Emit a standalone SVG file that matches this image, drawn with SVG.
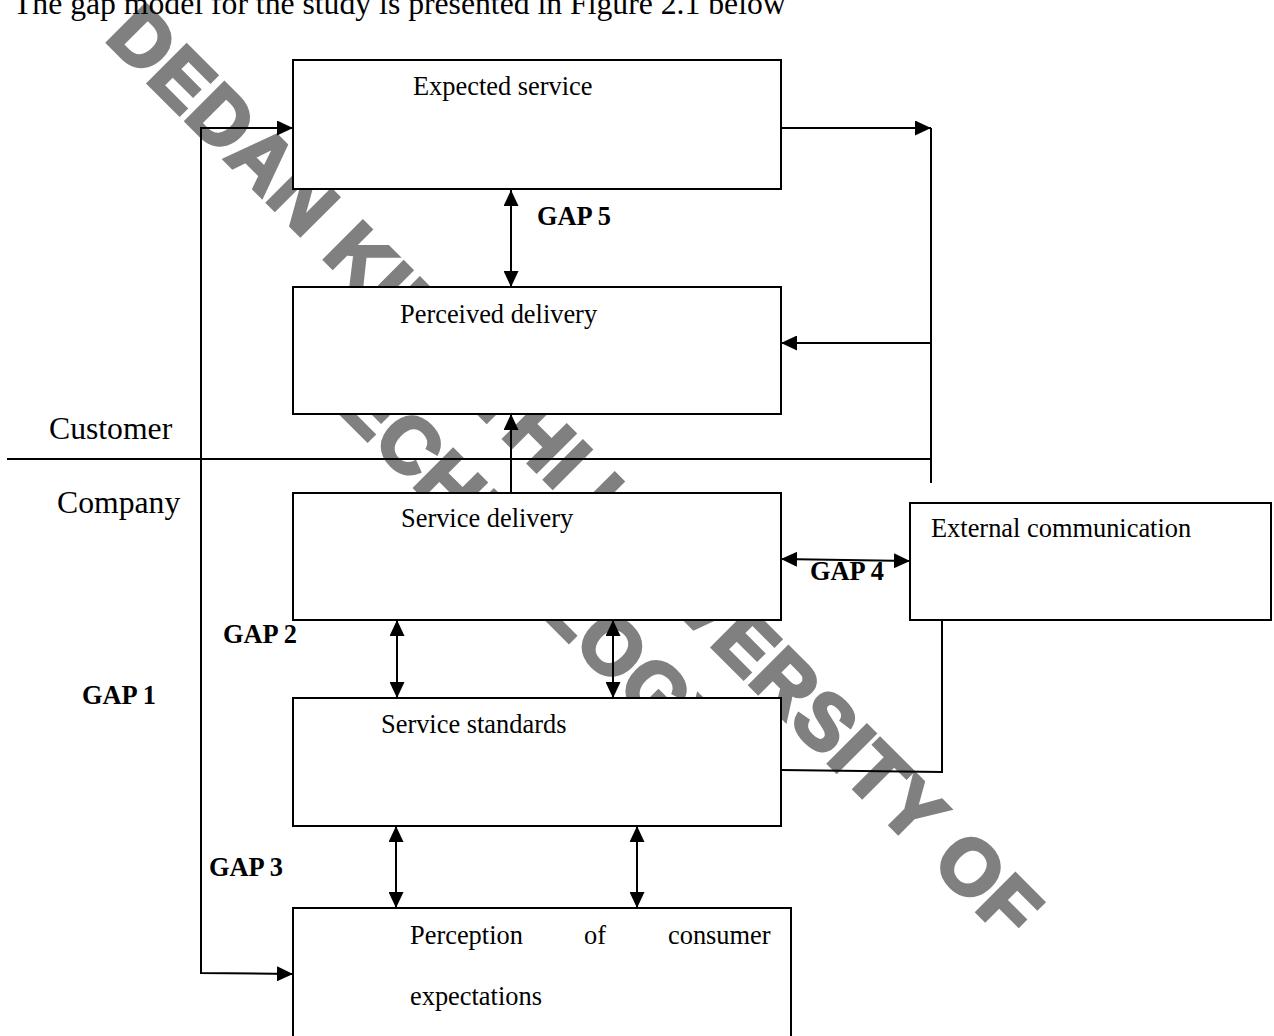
<svg xmlns="http://www.w3.org/2000/svg" width="1274" height="1036" viewBox="0 0 1274 1036">
  <style>
    .box { fill: #ffffff; stroke: #000000; stroke-width: 2; }
    .ln { fill: none; stroke: #000000; stroke-width: 2; }
    .body { font-family: "Liberation Serif", "Times New Roman", serif; font-size: 31.7px; fill: #000000; }
    .lbl { font-family: "Liberation Serif", "Times New Roman", serif; font-size: 26.4px; fill: #000000; }
    .gap { font-family: "Liberation Serif", "Times New Roman", serif; font-size: 26.4px; font-weight: bold; fill: #000000; }
    .wm { font-family: "Liberation Sans", Arial, sans-serif; font-size: 78.5px; font-weight: bold; fill: #808080; stroke: #808080; stroke-width: 3.5; stroke-linejoin: miter; font-kerning: none; letter-spacing: 1px; }
  </style>
  <defs>
    <marker id="head" markerUnits="userSpaceOnUse" markerWidth="16" markerHeight="15" refX="16" refY="7.5" orient="auto-start-reverse">
      <path d="M0,0 L16,7.5 L0,15 Z" fill="#000000"/>
    </marker>
  </defs>

  <rect width="1274" height="1036" fill="#ffffff"/>

  <!-- watermark -->
  <g id="watermark" class="wm" transform="translate(104,39) rotate(45)">
    <text x="0" y="0">DEDAN KIMATHI UNIVERSITY OF</text>
    <text x="372" y="97.6">TECHNOLOGY</text>
  </g>

  <text class="body" x="13" y="14">The gap model for the study is presented in Figure 2.1 below</text>

  <!-- customer / company divide -->
  <g id="divide">
    <line class="ln" x1="7" y1="459" x2="931" y2="459"/>
    <text class="body" x="49" y="439">Customer</text>
    <text class="body" x="57" y="513">Company</text>
  </g>

  <g id="expected-service">
    <rect class="box" x="293" y="60" width="488" height="129"/>
    <text class="lbl" x="413" y="95">Expected service</text>
  </g>

  <g id="perceived-delivery">
    <rect class="box" x="293" y="287" width="488" height="127"/>
    <text class="lbl" x="400" y="323">Perceived delivery</text>
  </g>

  <g id="service-delivery">
    <rect class="box" x="293" y="493" width="488" height="127"/>
    <text class="lbl" x="401" y="527">Service delivery</text>
  </g>

  <g id="external-communication">
    <rect class="box" x="910" y="503" width="361" height="117"/>
    <text class="lbl" x="931" y="537">External communication</text>
  </g>

  <g id="service-standards">
    <rect class="box" x="293" y="698" width="488" height="128"/>
    <text class="lbl" x="381" y="733">Service standards</text>
  </g>

  <g id="consumer-expectations">
    <rect class="box" x="293" y="908" width="498" height="150"/>
    <text class="lbl" x="410" y="944">Perception</text>
    <text class="lbl" x="584" y="944">of</text>
    <text class="lbl" x="668" y="944">consumer</text>
    <text class="lbl" x="410" y="1005">expectations</text>
  </g>

  <!-- connectors -->
  <g id="connectors">
    <!-- gap 1 loop -->
    <polyline class="ln" points="293,128 201,128 201,973 293,974" marker-start="url(#head)" marker-end="url(#head)"/>
    <!-- external communication feedback -->
    <line class="ln" x1="781" y1="128" x2="931" y2="128" marker-end="url(#head)"/>
    <line class="ln" x1="931" y1="128" x2="931" y2="483"/>
    <line class="ln" x1="931" y1="343" x2="781" y2="343" marker-end="url(#head)"/>
    <polyline class="ln" points="942,620 942,772 781,770"/>
    <!-- gap 5 -->
    <line class="ln" x1="511" y1="190" x2="511" y2="287" marker-start="url(#head)" marker-end="url(#head)"/>
    <!-- delivery to perception -->
    <line class="ln" x1="511" y1="493" x2="511" y2="414" marker-end="url(#head)"/>
    <!-- gap 4 -->
    <line class="ln" x1="781" y1="559" x2="910" y2="561" marker-start="url(#head)" marker-end="url(#head)"/>
    <!-- gap 2 -->
    <line class="ln" x1="397" y1="620" x2="397" y2="698" marker-start="url(#head)" marker-end="url(#head)"/>
    <line class="ln" x1="613" y1="620" x2="613" y2="698" marker-start="url(#head)" marker-end="url(#head)"/>
    <!-- gap 3 -->
    <line class="ln" x1="396" y1="826" x2="396" y2="908" marker-start="url(#head)" marker-end="url(#head)"/>
    <line class="ln" x1="637" y1="826" x2="637" y2="908" marker-start="url(#head)" marker-end="url(#head)"/>
  </g>

  <g id="gap-labels">
    <text class="gap" x="537" y="225">GAP 5</text>
    <text class="gap" x="810" y="580">GAP 4</text>
    <text class="gap" x="223" y="643">GAP 2</text>
    <text class="gap" x="82" y="704">GAP 1</text>
    <text class="gap" x="209" y="876">GAP 3</text>
  </g>
</svg>
